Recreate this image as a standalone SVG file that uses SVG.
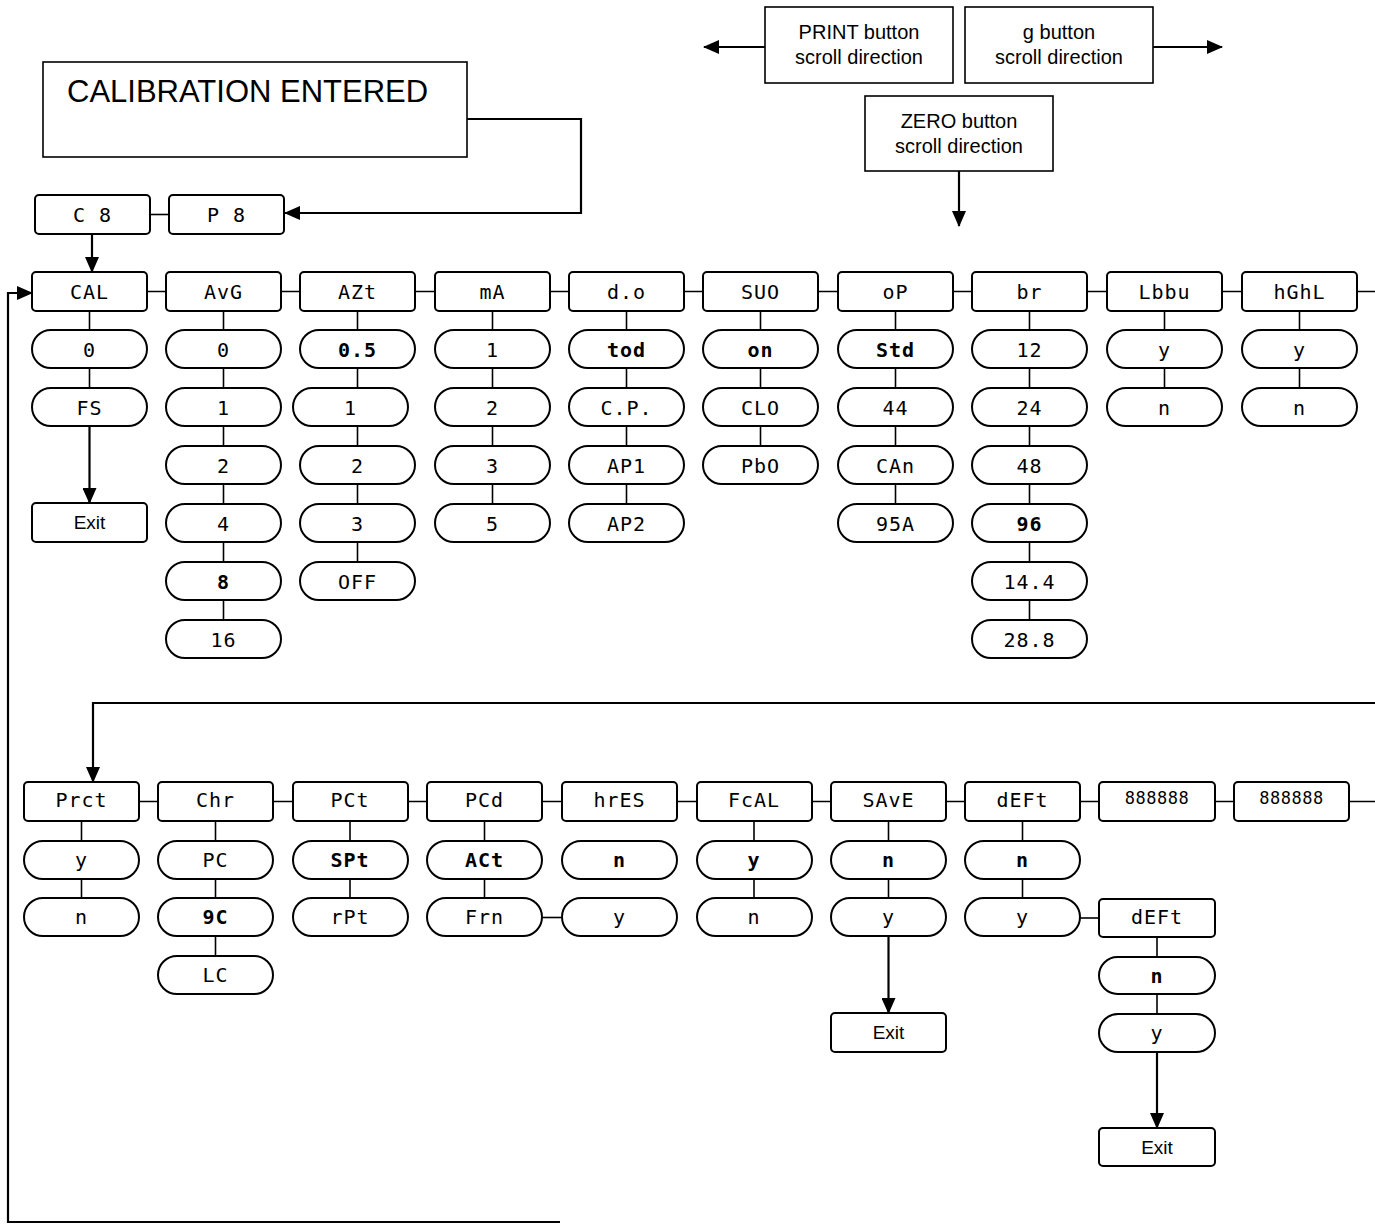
<svg xmlns="http://www.w3.org/2000/svg" width="1375" height="1226" viewBox="0 0 1375 1226">
<style>
.bx{fill:#fff;stroke:#000;stroke-width:2}
.pl{fill:#fff;stroke:#000;stroke-width:2}
.sq{fill:#fff;stroke:#000;stroke-width:1.6}
.ln{fill:none;stroke:#000;stroke-width:1.6}
.ar{fill:none;stroke:#000;stroke-width:2.2}
.sg{font-family:"DejaVu Sans Mono",monospace;font-size:20px;letter-spacing:1px;text-anchor:middle;fill:#000}
.b{font-weight:bold}
.sm{font-size:17px;letter-spacing:0.5px}
.tx{font-family:"Liberation Sans",Arial,sans-serif;fill:#000;text-anchor:middle}
.ts{font-family:"Liberation Sans",Arial,sans-serif;fill:#000;text-anchor:start}
</style>
<defs>
<marker id="ah" markerUnits="userSpaceOnUse" markerWidth="16" markerHeight="14" refX="15" refY="7" orient="auto">
<path d="M0,0 L16,7 L0,14 Z" fill="#000"/>
</marker>
</defs>
<rect width="1375" height="1226" fill="#fff"/>

<g id="connectors">
<polyline class="ar" points="467,119 581,119 581,213 285,213" marker-end="url(#ah)"/>
<line class="ln" x1="150" y1="214.5" x2="169" y2="214.5"/>
<line class="ar" x1="92" y1="234" x2="92" y2="272" marker-end="url(#ah)"/>
<line class="ar" x1="765" y1="47" x2="704" y2="47" marker-end="url(#ah)"/>
<line class="ar" x1="1153" y1="47" x2="1222" y2="47" marker-end="url(#ah)"/>
<line class="ar" x1="959" y1="171" x2="959" y2="226" marker-end="url(#ah)"/>
<line class="ln" x1="147" y1="291.5" x2="1375" y2="291.5"/>
<line class="ln" x1="89.5" y1="311" x2="89.5" y2="388"/>
<line class="ar" x1="89.5" y1="426" x2="89.5" y2="503" marker-end="url(#ah)"/>
<line class="ln" x1="223.5" y1="311" x2="223.5" y2="620"/>
<line class="ln" x1="357.5" y1="311" x2="357.5" y2="562"/>
<line class="ln" x1="492.5" y1="311" x2="492.5" y2="504"/>
<line class="ln" x1="626.5" y1="311" x2="626.5" y2="504"/>
<line class="ln" x1="760.5" y1="311" x2="760.5" y2="446"/>
<line class="ln" x1="895.5" y1="311" x2="895.5" y2="504"/>
<line class="ln" x1="1029.5" y1="311" x2="1029.5" y2="620"/>
<line class="ln" x1="1164.5" y1="311" x2="1164.5" y2="388"/>
<line class="ln" x1="1299.5" y1="311" x2="1299.5" y2="388"/>
<polyline class="ar" points="1375,703 93,703 93,782" marker-end="url(#ah)"/>
<polyline class="ar" points="560,1222 8,1222 8,293 32,293" marker-end="url(#ah)"/>
<line class="ln" x1="139" y1="801.5" x2="1375" y2="801.5"/>
<line class="ln" x1="81.5" y1="821" x2="81.5" y2="898"/>
<line class="ln" x1="215.5" y1="821" x2="215.5" y2="956"/>
<line class="ln" x1="350" y1="821" x2="350" y2="898"/>
<line class="ln" x1="484.5" y1="821" x2="484.5" y2="898"/>
<line class="ln" x1="542" y1="917.5" x2="562" y2="917.5"/>
<line class="ln" x1="754" y1="821" x2="754" y2="898"/>
<line class="ln" x1="888.5" y1="821" x2="888.5" y2="898"/>
<line class="ar" x1="888.5" y1="937" x2="888.5" y2="1013" marker-end="url(#ah)"/>
<line class="ln" x1="1022.5" y1="821" x2="1022.5" y2="898"/>
<line class="ln" x1="1080" y1="918" x2="1099" y2="918"/>
<line class="ln" x1="1157" y1="937" x2="1157" y2="1014"/>
<line class="ar" x1="1157" y1="1052" x2="1157" y2="1128" marker-end="url(#ah)"/>
</g>

<g id="cal-entered"><rect class="sq" x="43" y="62" width="424" height="95"/><text class="ts" x="67" y="102" font-size="31">CALIBRATION ENTERED</text></g>
<g id="print-btn"><rect class="sq" x="765" y="7" width="188" height="76"/><text class="tx" x="859" y="39" font-size="20">PRINT button</text><text class="tx" x="859" y="64" font-size="20">scroll direction</text></g>
<g id="g-btn"><rect class="sq" x="965" y="7" width="188" height="76"/><text class="tx" x="1059" y="39" font-size="20">g button</text><text class="tx" x="1059" y="64" font-size="20">scroll direction</text></g>
<g id="zero-btn"><rect class="sq" x="865" y="96" width="188" height="75"/><text class="tx" x="959" y="128" font-size="20">ZERO button</text><text class="tx" x="959" y="153" font-size="20">scroll direction</text></g>
<g id="c8"><rect class="bx" x="35" y="195" width="115" height="39" rx="4"/><text class="sg" x="92.5" y="222">C 8</text></g>
<g id="p8"><rect class="bx" x="169" y="195" width="115" height="39" rx="4"/><text class="sg" x="226.5" y="222">P 8</text></g>

<g id="cal"><rect class="bx" x="32" y="272" width="115" height="39" rx="4"/><text class="sg" x="89.5" y="299">CAL</text></g>
<g id="avg"><rect class="bx" x="166" y="272" width="115" height="39" rx="4"/><text class="sg" x="223.5" y="299">AvG</text></g>
<g id="azt"><rect class="bx" x="300" y="272" width="115" height="39" rx="4"/><text class="sg" x="357.5" y="299">AZt</text></g>
<g id="ma"><rect class="bx" x="435" y="272" width="115" height="39" rx="4"/><text class="sg" x="492.5" y="299">mA</text></g>
<g id="do"><rect class="bx" x="569" y="272" width="115" height="39" rx="4"/><text class="sg" x="626.5" y="299">d.o</text></g>
<g id="suo"><rect class="bx" x="703" y="272" width="115" height="39" rx="4"/><text class="sg" x="760.5" y="299">SUO</text></g>
<g id="op"><rect class="bx" x="838" y="272" width="115" height="39" rx="4"/><text class="sg" x="895.5" y="299">oP</text></g>
<g id="br"><rect class="bx" x="972" y="272" width="115" height="39" rx="4"/><text class="sg" x="1029.5" y="299">br</text></g>
<g id="lbbu"><rect class="bx" x="1107" y="272" width="115" height="39" rx="4"/><text class="sg" x="1164.5" y="299">Lbbu</text></g>
<g id="hghl"><rect class="bx" x="1242" y="272" width="115" height="39" rx="4"/><text class="sg" x="1299.5" y="299">hGhL</text></g>

<g id="cal-0"><rect class="pl" x="32" y="330" width="115" height="38" rx="19"/><text class="sg" x="89.5" y="357">0</text></g>
<g id="cal-fs"><rect class="pl" x="32" y="388" width="115" height="38" rx="19"/><text class="sg" x="89.5" y="415">FS</text></g>
<g id="cal-exit"><rect class="bx" x="32" y="503" width="115" height="39" rx="4"/><text class="tx" x="89.5" y="529" font-size="19">Exit</text></g>

<g id="avg-0"><rect class="pl" x="166" y="330" width="115" height="38" rx="19"/><text class="sg" x="223.5" y="357">0</text></g>
<g id="avg-1"><rect class="pl" x="166" y="388" width="115" height="38" rx="19"/><text class="sg" x="223.5" y="415">1</text></g>
<g id="avg-2"><rect class="pl" x="166" y="446" width="115" height="38" rx="19"/><text class="sg" x="223.5" y="473">2</text></g>
<g id="avg-4"><rect class="pl" x="166" y="504" width="115" height="38" rx="19"/><text class="sg" x="223.5" y="531">4</text></g>
<g id="avg-8"><rect class="pl" x="166" y="562" width="115" height="38" rx="19"/><text class="sg b" x="223.5" y="589">8</text></g>
<g id="avg-16"><rect class="pl" x="166" y="620" width="115" height="38" rx="19"/><text class="sg" x="223.5" y="647">16</text></g>

<g id="azt-05"><rect class="pl" x="300" y="330" width="115" height="38" rx="19"/><text class="sg b" x="357.5" y="357">0.5</text></g>
<g id="azt-1"><rect class="pl" x="293" y="388" width="115" height="38" rx="19"/><text class="sg" x="350.5" y="415">1</text></g>
<g id="azt-2"><rect class="pl" x="300" y="446" width="115" height="38" rx="19"/><text class="sg" x="357.5" y="473">2</text></g>
<g id="azt-3"><rect class="pl" x="300" y="504" width="115" height="38" rx="19"/><text class="sg" x="357.5" y="531">3</text></g>
<g id="azt-off"><rect class="pl" x="300" y="562" width="115" height="38" rx="19"/><text class="sg" x="357.5" y="589">OFF</text></g>

<g id="ma-1"><rect class="pl" x="435" y="330" width="115" height="38" rx="19"/><text class="sg" x="492.5" y="357">1</text></g>
<g id="ma-2"><rect class="pl" x="435" y="388" width="115" height="38" rx="19"/><text class="sg" x="492.5" y="415">2</text></g>
<g id="ma-3"><rect class="pl" x="435" y="446" width="115" height="38" rx="19"/><text class="sg" x="492.5" y="473">3</text></g>
<g id="ma-5"><rect class="pl" x="435" y="504" width="115" height="38" rx="19"/><text class="sg" x="492.5" y="531">5</text></g>

<g id="do-tod"><rect class="pl" x="569" y="330" width="115" height="38" rx="19"/><text class="sg b" x="626.5" y="357">tod</text></g>
<g id="do-cp"><rect class="pl" x="569" y="388" width="115" height="38" rx="19"/><text class="sg" x="626.5" y="415">C.P.</text></g>
<g id="do-ap1"><rect class="pl" x="569" y="446" width="115" height="38" rx="19"/><text class="sg" x="626.5" y="473">AP1</text></g>
<g id="do-ap2"><rect class="pl" x="569" y="504" width="115" height="38" rx="19"/><text class="sg" x="626.5" y="531">AP2</text></g>

<g id="suo-on"><rect class="pl" x="703" y="330" width="115" height="38" rx="19"/><text class="sg b" x="760.5" y="357">on</text></g>
<g id="suo-clo"><rect class="pl" x="703" y="388" width="115" height="38" rx="19"/><text class="sg" x="760.5" y="415">CLO</text></g>
<g id="suo-pbo"><rect class="pl" x="703" y="446" width="115" height="38" rx="19"/><text class="sg" x="760.5" y="473">PbO</text></g>

<g id="op-std"><rect class="pl" x="838" y="330" width="115" height="38" rx="19"/><text class="sg b" x="895.5" y="357">Std</text></g>
<g id="op-44"><rect class="pl" x="838" y="388" width="115" height="38" rx="19"/><text class="sg" x="895.5" y="415">44</text></g>
<g id="op-can"><rect class="pl" x="838" y="446" width="115" height="38" rx="19"/><text class="sg" x="895.5" y="473">CAn</text></g>
<g id="op-95a"><rect class="pl" x="838" y="504" width="115" height="38" rx="19"/><text class="sg" x="895.5" y="531">95A</text></g>

<g id="br-12"><rect class="pl" x="972" y="330" width="115" height="38" rx="19"/><text class="sg" x="1029.5" y="357">12</text></g>
<g id="br-24"><rect class="pl" x="972" y="388" width="115" height="38" rx="19"/><text class="sg" x="1029.5" y="415">24</text></g>
<g id="br-48"><rect class="pl" x="972" y="446" width="115" height="38" rx="19"/><text class="sg" x="1029.5" y="473">48</text></g>
<g id="br-96"><rect class="pl" x="972" y="504" width="115" height="38" rx="19"/><text class="sg b" x="1029.5" y="531">96</text></g>
<g id="br-144"><rect class="pl" x="972" y="562" width="115" height="38" rx="19"/><text class="sg" x="1029.5" y="589">14.4</text></g>
<g id="br-288"><rect class="pl" x="972" y="620" width="115" height="38" rx="19"/><text class="sg" x="1029.5" y="647">28.8</text></g>

<g id="lbbu-y"><rect class="pl" x="1107" y="330" width="115" height="38" rx="19"/><text class="sg" x="1164.5" y="357">y</text></g>
<g id="lbbu-n"><rect class="pl" x="1107" y="388" width="115" height="38" rx="19"/><text class="sg" x="1164.5" y="415">n</text></g>
<g id="hghl-y"><rect class="pl" x="1242" y="330" width="115" height="38" rx="19"/><text class="sg" x="1299.5" y="357">y</text></g>
<g id="hghl-n"><rect class="pl" x="1242" y="388" width="115" height="38" rx="19"/><text class="sg" x="1299.5" y="415">n</text></g>

<g id="prct"><rect class="bx" x="24" y="782" width="115" height="39" rx="4"/><text class="sg" x="81.5" y="807">Prct</text></g>
<g id="chr"><rect class="bx" x="158" y="782" width="115" height="39" rx="4"/><text class="sg" x="215.5" y="807">Chr</text></g>
<g id="pct"><rect class="bx" x="293" y="782" width="115" height="39" rx="4"/><text class="sg" x="350" y="807">PCt</text></g>
<g id="pcd"><rect class="bx" x="427" y="782" width="115" height="39" rx="4"/><text class="sg" x="484.5" y="807">PCd</text></g>
<g id="hres"><rect class="bx" x="562" y="782" width="115" height="39" rx="4"/><text class="sg" x="619.5" y="807">hrES</text></g>
<g id="fcal"><rect class="bx" x="697" y="782" width="115" height="39" rx="4"/><text class="sg" x="754" y="807">FcAL</text></g>
<g id="save"><rect class="bx" x="831" y="782" width="115" height="39" rx="4"/><text class="sg" x="888.5" y="807">SAvE</text></g>
<g id="deft"><rect class="bx" x="965" y="782" width="115" height="39" rx="4"/><text class="sg" x="1022.5" y="807">dEFt</text></g>
<g id="blank1"><rect class="bx" x="1099" y="782" width="116" height="39" rx="4"/><text class="sg sm" x="1157" y="804">888888</text></g>
<g id="blank2"><rect class="bx" x="1234" y="782" width="115" height="39" rx="4"/><text class="sg sm" x="1291.5" y="804">888888</text></g>

<g id="prct-y"><rect class="pl" x="24" y="841" width="115" height="38" rx="19"/><text class="sg" x="81.5" y="867">y</text></g>
<g id="prct-n"><rect class="pl" x="24" y="898" width="115" height="38" rx="19"/><text class="sg" x="81.5" y="924">n</text></g>
<g id="chr-pc"><rect class="pl" x="158" y="841" width="115" height="38" rx="19"/><text class="sg" x="215.5" y="867">PC</text></g>
<g id="chr-9c"><rect class="pl" x="158" y="898" width="115" height="38" rx="19"/><text class="sg b" x="215.5" y="924">9C</text></g>
<g id="chr-lc"><rect class="pl" x="158" y="956" width="115" height="38" rx="19"/><text class="sg" x="215.5" y="982">LC</text></g>
<g id="pct-spt"><rect class="pl" x="293" y="841" width="115" height="38" rx="19"/><text class="sg b" x="350" y="867">SPt</text></g>
<g id="pct-rpt"><rect class="pl" x="293" y="898" width="115" height="38" rx="19"/><text class="sg" x="350" y="924">rPt</text></g>
<g id="pcd-act"><rect class="pl" x="427" y="841" width="115" height="38" rx="19"/><text class="sg b" x="484.5" y="867">ACt</text></g>
<g id="pcd-frn"><rect class="pl" x="427" y="898" width="115" height="38" rx="19"/><text class="sg" x="484.5" y="924">Frn</text></g>
<g id="hres-n"><rect class="pl" x="562" y="841" width="115" height="38" rx="19"/><text class="sg b" x="619.5" y="867">n</text></g>
<g id="hres-y"><rect class="pl" x="562" y="898" width="115" height="38" rx="19"/><text class="sg" x="619.5" y="924">y</text></g>
<g id="fcal-y"><rect class="pl" x="697" y="841" width="115" height="38" rx="19"/><text class="sg b" x="754" y="867">y</text></g>
<g id="fcal-n"><rect class="pl" x="697" y="898" width="115" height="38" rx="19"/><text class="sg" x="754" y="924">n</text></g>
<g id="save-n"><rect class="pl" x="831" y="841" width="115" height="38" rx="19"/><text class="sg b" x="888.5" y="867">n</text></g>
<g id="save-y"><rect class="pl" x="831" y="898" width="115" height="38" rx="19"/><text class="sg" x="888.5" y="924">y</text></g>
<g id="save-exit"><rect class="bx" x="831" y="1013" width="115" height="39" rx="4"/><text class="tx" x="888.5" y="1039" font-size="19">Exit</text></g>
<g id="deft-n"><rect class="pl" x="965" y="841" width="115" height="38" rx="19"/><text class="sg b" x="1022.5" y="867">n</text></g>
<g id="deft-y"><rect class="pl" x="965" y="898" width="115" height="38" rx="19"/><text class="sg" x="1022.5" y="924">y</text></g>
<g id="deft2"><rect class="bx" x="1099" y="899" width="116" height="38" rx="4"/><text class="sg" x="1157" y="924">dEFt</text></g>
<g id="deft2-n"><rect class="pl" x="1099" y="957" width="116" height="37" rx="18.5"/><text class="sg b" x="1157" y="983">n</text></g>
<g id="deft2-y"><rect class="pl" x="1099" y="1014" width="116" height="38" rx="19"/><text class="sg" x="1157" y="1040">y</text></g>
<g id="deft2-exit"><rect class="bx" x="1099" y="1128" width="116" height="38" rx="4"/><text class="tx" x="1157" y="1154" font-size="19">Exit</text></g>
</svg>
